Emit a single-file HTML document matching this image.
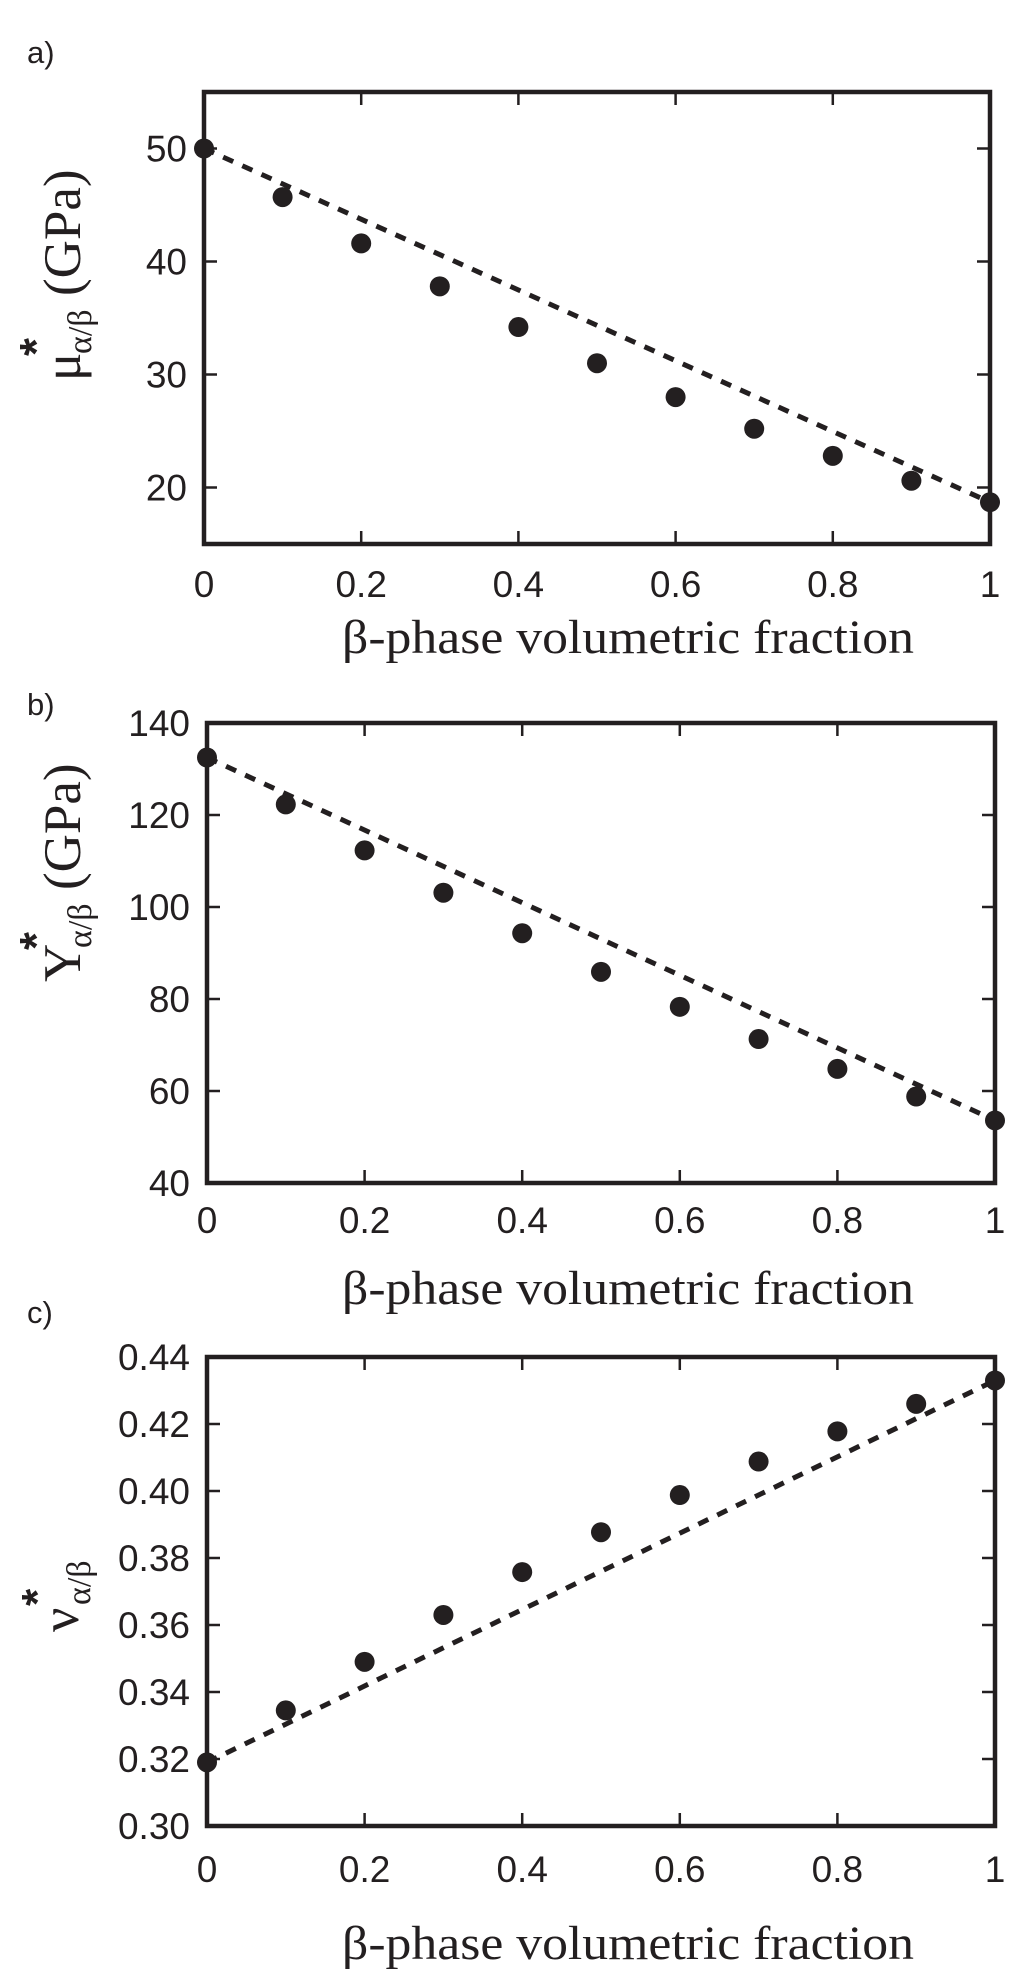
<!DOCTYPE html>
<html><head><meta charset="utf-8"><title>Effective elastic properties vs β-phase volumetric fraction</title>
<style>
html,body{margin:0;padding:0;background:#fff;}
svg{display:block;}
.tick{font-family:"Liberation Sans",sans-serif;font-size:37px;fill:#231f20;}
.ttl{font-family:"Liberation Serif",serif;font-size:48px;fill:#231f20;}
.plabel{font-family:"Liberation Sans",sans-serif;font-size:31px;fill:#231f20;}
</style></head>
<body>
<svg id="fig" width="1024" height="1982" viewBox="0 0 1024 1982" xmlns="http://www.w3.org/2000/svg"></svg>
<script>
const xCats = [0, 0.1, 0.2, 0.3, 0.4, 0.5, 0.6, 0.7, 0.8, 0.9, 1];
const xTickVals = [0, 0.2, 0.4, 0.6, 0.8, 1];
const xTickLabels = ["0", "0.2", "0.4", "0.6", "0.8", "1"];
const muValues = [50, 45.7, 41.6, 37.8, 34.2, 31.0, 28.0, 25.2, 22.8, 20.6, 18.7];
const muLine = [50, 18.7];
const muTicks = [20, 30, 40, 50];
const muTickLabels = ["20", "30", "40", "50"];
const yValues = [132.5, 122.3, 112.3, 103.1, 94.3, 85.9, 78.3, 71.3, 64.8, 58.8, 53.6];
const yLine = [132.5, 53.6];
const yTicks = [40, 60, 80, 100, 120, 140];
const yTickLabels = ["40", "60", "80", "100", "120", "140"];
const nuValues = [0.319, 0.3345, 0.349, 0.363, 0.3758, 0.3877, 0.3988, 0.4088, 0.4178, 0.426, 0.433];
const nuLine = [0.319, 0.433];
const nuTicks = [0.30, 0.32, 0.34, 0.36, 0.38, 0.40, 0.42, 0.44];
const nuTickLabels = ["0.30", "0.32", "0.34", "0.36", "0.38", "0.40", "0.42", "0.44"];

const NS = "http://www.w3.org/2000/svg";
const svg = document.getElementById("fig");
function mk(tag, attrs, parent) {
  const e = document.createElementNS(NS, tag);
  for (const k in attrs) e.setAttribute(k, attrs[k]);
  (parent || svg).appendChild(e);
  return e;
}

const panels = [
  {id:"a", L:204, R:990, T:92, B:544, ymin:15, ymax:55, vals:muValues, line:muLine, ticks:muTicks, tl:muTickLabels,
   tickBase:597, titleBase:653, labBase:63, ylab:"mu", ycy:259},
  {id:"b", L:207, R:995, T:723, B:1183, ymin:40, ymax:140, vals:yValues, line:yLine, ticks:yTicks, tl:yTickLabels,
   tickBase:1233, titleBase:1304, labBase:715, ylab:"Y", ycy:860},
  {id:"c", L:207, R:995, T:1357, B:1826, ymin:0.30, ymax:0.44, vals:nuValues, line:nuLine, ticks:nuTicks, tl:nuTickLabels,
   tickBase:1882, titleBase:1959, labBase:1323, ylab:"nu", ycy:1592}
];

panels.forEach(p => {
  const xs = v => p.L + (v - 0) / (1 - 0) * (p.R - p.L);
  const ys = v => p.B - (v - p.ymin) / (p.ymax - p.ymin) * (p.B - p.T);
  const g = mk("g", {});
  
  

  const lab = mk("text", {x:27, y:p.labBase, class:"plabel"}, g);
  lab.textContent = p.id + ")";
  
  

  xTickVals.forEach((v, i) => {
    const x = xs(v);
    const t1 = mk("line", {x1:x, x2:x, y1:p.B, y2:p.B-13, stroke:"#231f20", "stroke-width":2.5}, g);
    
    
    const t2 = mk("line", {x1:x, x2:x, y1:p.T, y2:p.T+13, stroke:"#231f20", "stroke-width":2.5}, g);
    
    
    const tx = mk("text", {x:x, y:p.tickBase, "text-anchor":"middle", class:"tick"}, g);
    tx.textContent = xTickLabels[i];
    
    
  });
  p.ticks.forEach((v, i) => {
    const y = ys(v);
    const t1 = mk("line", {x1:p.L, x2:p.L+13, y1:y, y2:y, stroke:"#231f20", "stroke-width":2.5}, g);
    
    
    const t2 = mk("line", {x1:p.R, x2:p.R-13, y1:y, y2:y, stroke:"#231f20", "stroke-width":2.5}, g);
    
    
    const ty = mk("text", {x:p.L-17, y:y+13, "text-anchor":"end", class:"tick"}, g);
    ty.textContent = p.tl[i];
    
    
  });

  const fr = mk("rect", {x:p.L, y:p.T, width:p.R-p.L, height:p.B-p.T, fill:"none", stroke:"#231f20", "stroke-width":4.5}, g);
  
  

  const ln = mk("line", {x1:xs(xCats[0]), y1:ys(p.line[0]), x2:xs(xCats[xCats.length-1]), y2:ys(p.line[1]),
    stroke:"#231f20", "stroke-width":5, "stroke-dasharray":"11 10"}, g);
  
  

  p.vals.forEach((v, i) => {
    const c = mk("circle", {cx:xs(xCats[i]), cy:ys(v), r:10, fill:"#231f20"}, g);
    
    
  });

  const tt = mk("text", {x:342, y:p.titleBase, class:"ttl", textLength:572, lengthAdjust:"spacingAndGlyphs"}, g);
  tt.textContent = "β-phase volumetric fraction";
  
  

  const bx = p.ylab === "nu" ? 78 : 80;
  const yg = mk("g", {transform:"translate(" + bx + "," + p.ycy + ") rotate(-90)"}, g);
  
  
  const serif = '"Liberation Serif", serif';
  if (p.ylab === "nu") {
    mk("text", {x:-40, y:0, "font-family":serif, "font-size":54, fill:"#231f20"}, yg).textContent = "ν";
    mk("text", {x:-14, y:-26, "font-family":'"Liberation Sans", sans-serif', "font-weight":"bold", "font-size":44, fill:"#231f20"}, yg).textContent = "*";
    mk("text", {x:-13, y:12, "font-family":serif, "font-size":34, fill:"#231f20"}, yg).textContent = "α/β";
  } else {
    const sym = p.ylab === "mu" ? "μ" : "Y";
    const w0 = p.ylab === "mu" ? 27 : 34;
    const start = -122;
    mk("text", {x:start, y:0, "font-family":serif, "font-size":53, fill:"#231f20"}, yg).textContent = sym;
    mk("text", {x:start + w0 - 2, y:-28, "font-family":'"Liberation Sans", sans-serif', "font-weight":"bold", "font-size":46, fill:"#231f20"}, yg).textContent = "*";
    mk("text", {x:start + w0, y:11, "font-family":serif, "font-size":34, fill:"#231f20"}, yg).textContent = "α/β";
    mk("text", {x:start + w0 + 58, y:0, "font-family":serif, "font-size":53, fill:"#231f20"}, yg).textContent = "(GPa)";
  }
});
</script>
</body></html>
